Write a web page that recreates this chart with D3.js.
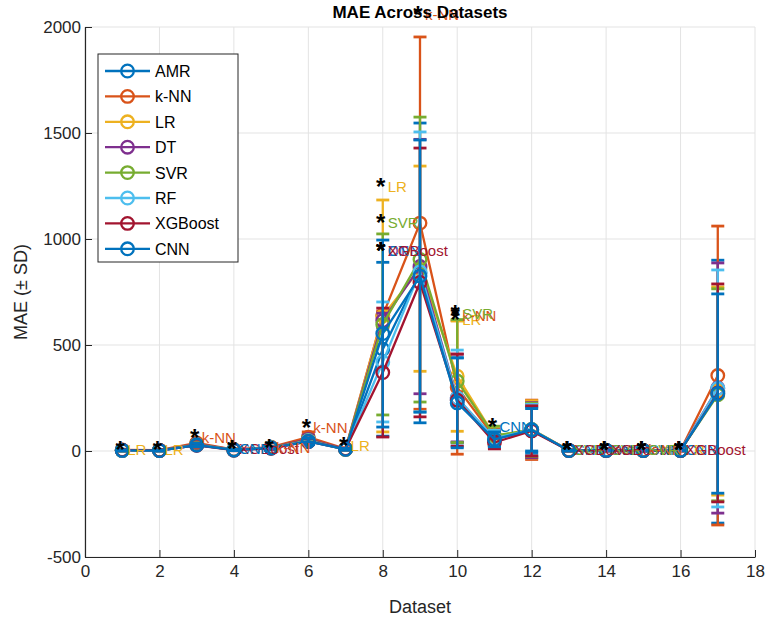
<!DOCTYPE html>
<html lang="en">
<head>
<meta charset="UTF-8">
<title>MAE Across Datasets</title>
<style>
  body { margin: 0; background: #fff; }
  svg text { font-family: "Liberation Sans", Arial, Helvetica, sans-serif; }
</style>
</head>
<body>
<svg width="765" height="617" id="svg"></svg>
<script src="https://d3js.org/d3.v7.min.js"></script>
<script>
// dataset index on x axis
const datasets = [1, 2, 3, 4, 5, 6, 7, 8, 9, 10, 11, 12, 13, 14, 15, 16, 17]
const models = ["AMR", "k-NN", "LR", "DT", "SVR", "RF", "XGBoost", "CNN"]

// mean MAE per model
const maeAMR = [3, 2, 28, 5, 14, 45, 8, 480, 840, 240, 60, 100, 2, 3, 2, 3, 280]
const maeKNN = [5, 4, 38, 7, 18, 65, 10, 640, 1075, 300, 65, 100, 3, 4, 3, 4, 356]
const maeLR = [2, 2, 30, 6, 15, 50, 7, 637, 860, 353, 70, 102, 3, 4, 3, 3, 283]
const maeDT = [4, 3, 32, 6, 16, 55, 9, 615, 870, 250, 55, 98, 3, 3, 3, 4, 297]
const maeSVR = [3, 3, 30, 5, 15, 50, 8, 597, 903, 330, 72, 100, 2, 3, 2, 3, 265]
const maeRF = [3, 2, 28, 5, 14, 48, 8, 420, 845, 250, 60, 100, 2, 3, 2, 3, 295]
const maeXGB = [4, 3, 27, 4, 13, 45, 9, 370, 795, 240, 40, 95, 2, 2, 2, 2, 274]
const maeCNN = [3, 2, 28, 5, 14, 45, 8, 554, 825, 227, 55, 100, 2, 3, 2, 3, 271]

// standard deviations
const sdAMR = [3, 2, 8, 3, 5, 15, 4, 410, 707, 200, 35, 108, 2, 2, 2, 2, 620]
const sdKNN = [4, 3, 12, 4, 6, 25, 5, 20, 878, 315, 40, 140, 3, 3, 3, 3, 705]
const sdLR = [3, 2, 10, 4, 5, 18, 4, 547, 484, 260, 45, 135, 2, 3, 2, 2, 491]
const sdDT = [3, 2, 10, 3, 5, 20, 4, 35, 600, 207, 38, 130, 2, 2, 2, 2, 590]
const sdSVR = [3, 2, 9, 3, 5, 18, 4, 427, 672, 290, 45, 125, 2, 2, 2, 2, 500]
const sdRF = [3, 2, 8, 3, 5, 16, 4, 283, 660, 226, 38, 120, 2, 2, 2, 2, 559]
const sdXGB = [3, 2, 8, 3, 5, 15, 4, 304, 634, 217, 30, 118, 2, 2, 2, 2, 514]
const sdCNN = [3, 2, 8, 3, 5, 15, 4, 441, 642, 212, 35, 100, 2, 2, 2, 2, 470]

// starred (best) models: dataset, model, label height
const starDataset = [1, 2, 3, 4, 4, 5, 6, 7, 8, 8, 8, 8, 8, 9, 10, 10, 10, 11, 13, 13, 13, 14, 14, 14, 15, 15, 15, 16, 16, 16]
const starModel = ["LR", "LR", "k-NN", "XGBoost", "CNN", "k-NN", "k-NN", "LR", "LR", "SVR", "DT", "CNN", "XGBoost", "k-NN",
    "LR", "k-NN", "SVR", "CNN", "CNN", "SVR", "XGBoost", "CNN", "SVR", "XGBoost", "CNN", "k-NN", "SVR", "LR", "CNN", "XGBoost"]
const starValue = [28, 26, 85, 35, 35, 40, 130, 45, 1268, 1100, 968, 968, 968, 2080, 640, 662, 668, 137, 30, 30, 30, 30, 30, 30, 30, 30, 30, 30, 30, 30]

const xTicks = [0, 2, 4, 6, 8, 10, 12, 14, 16, 18]
const yTicks = [-500, 0, 500, 1000, 1500, 2000]

const colors = ["#0072BD", "#D95319", "#EDB120", "#7E2F8E", "#77AC30", "#4DBEEE", "#A2142F", "#0072BD"]
const means = [maeAMR, maeKNN, maeLR, maeDT, maeSVR, maeRF, maeXGB, maeCNN]
const sds = [sdAMR, sdKNN, sdLR, sdDT, sdSVR, sdRF, sdXGB, sdCNN]

const svg = d3.select("svg#svg")
const margin = { left: 85, right: 10, top: 27, bottom: 60 }
const width = +svg.attr("width")
const height = +svg.attr("height")
const axisColor = "#262626"

const xScale = d3.scaleLinear().domain([0, 18]).range([margin.left, width - margin.right])
const yScale = d3.scaleLinear().domain([-500, 2000]).range([height - margin.bottom, margin.top])

// grid
const grid = svg.append("g").attr("stroke", "#e3e3e3").attr("stroke-width", 1)
grid.selectAll("line.gx").data(xTicks).enter().append("line")
    .attr("x1", d => xScale(d)).attr("x2", d => xScale(d))
    .attr("y1", yScale(-500)).attr("y2", yScale(2000))
grid.selectAll("line.gy").data(yTicks).enter().append("line")
    .attr("x1", xScale(0)).attr("x2", xScale(18))
    .attr("y1", d => yScale(d)).attr("y2", d => yScale(d))

// axes (ticks pointing inward like matlab)
const xAxis = d3.axisBottom(xScale).tickValues(xTicks).tickFormat(d => d).tickSizeInner(-7).tickSizeOuter(0).tickPadding(8)
const yAxis = d3.axisLeft(yScale).tickValues(yTicks).tickFormat(d => d).tickSizeInner(-7).tickSizeOuter(0).tickPadding(4)

const gx = svg.append("g").attr("transform", `translate(0, ${yScale(-500)})`).call(xAxis)
const gy = svg.append("g").attr("transform", `translate(${xScale(0)}, 0)`).call(yAxis)
;[gx, gy].forEach(g => {
    g.select(".domain").attr("stroke", axisColor).attr("stroke-width", 1.2)
    g.selectAll(".tick line").attr("stroke", axisColor)
    g.selectAll(".tick text").attr("fill", axisColor).style("font-size", "17px")
})

// series: errorbars, line, markers
const line = d3.line().x(d => xScale(d.x)).y(d => yScale(d.m))
const cap = 6.5

models.forEach((name, i) => {
    const pts = datasets.map((d, j) => ({ x: d, m: means[i][j], s: sds[i][j] }))
    const g = svg.append("g").attr("stroke", colors[i]).attr("stroke-width", 2.3).attr("fill", "none")

    const bars = g.selectAll("g.bar").data(pts).enter().append("g")
    bars.append("line")
        .attr("x1", d => xScale(d.x)).attr("x2", d => xScale(d.x))
        .attr("y1", d => yScale(d.m - d.s)).attr("y2", d => yScale(d.m + d.s))
    bars.append("line")
        .attr("x1", d => xScale(d.x) - cap).attr("x2", d => xScale(d.x) + cap)
        .attr("y1", d => yScale(d.m + d.s)).attr("y2", d => yScale(d.m + d.s)).attr("stroke-width", 2.8)
    bars.append("line")
        .attr("x1", d => xScale(d.x) - cap).attr("x2", d => xScale(d.x) + cap)
        .attr("y1", d => yScale(d.m - d.s)).attr("y2", d => yScale(d.m - d.s)).attr("stroke-width", 2.8)

    g.append("path").datum(pts).attr("d", line).attr("stroke-linejoin", "round")

    g.selectAll("circle").data(pts).enter().append("circle")
        .attr("cx", d => xScale(d.x)).attr("cy", d => yScale(d.m)).attr("r", 6.3)
})

// stars + model names
const stars = svg.append("g")
starDataset.forEach((d, k) => {
    const mi = models.indexOf(starModel[k])
    const px = xScale(d)
    const py = yScale(starValue[k])
    stars.append("text").text("*")
        .attr("x", px - 2).attr("y", py + 13)
        .attr("text-anchor", "middle")
        .attr("fill", "#000").style("font-size", "24px").style("font-weight", "bold")
    stars.append("text").text(starModel[k])
        .attr("x", px + 5).attr("y", py + 10)
        .attr("fill", colors[mi]).style("font-size", "15px")
})

// legend
const lg = svg.append("g").attr("transform", "translate(98, 54)")
lg.append("rect").attr("width", 140).attr("height", 208)
    .attr("fill", "#fff").attr("stroke", axisColor).attr("stroke-width", 1)
models.forEach((name, i) => {
    const yy = 17 + i * 25.4
    lg.append("line").attr("x1", 7).attr("x2", 52).attr("y1", yy).attr("y2", yy)
        .attr("stroke", colors[i]).attr("stroke-width", 2.3)
    lg.append("circle").attr("cx", 29.5).attr("cy", yy).attr("r", 6.3)
        .attr("fill", "none").attr("stroke", colors[i]).attr("stroke-width", 2.3)
    lg.append("text").text(name).attr("x", 57).attr("y", yy + 6)
        .attr("fill", "#000").style("font-size", "16px")
})

// titles
svg.append("text").text("MAE Across Datasets")
    .attr("x", (xScale(0) + xScale(18)) / 2).attr("y", 18)
    .attr("text-anchor", "middle").attr("fill", "#000")
    .style("font-size", "17px").style("font-weight", "bold")
svg.append("text").text("Dataset")
    .attr("x", (xScale(0) + xScale(18)) / 2).attr("y", 613)
    .attr("text-anchor", "middle").attr("fill", axisColor).style("font-size", "18px")
svg.append("text").text("MAE (± SD)")
    .attr("transform", `translate(27, ${(yScale(-500) + yScale(2000)) / 2}) rotate(-90)`)
    .attr("text-anchor", "middle").attr("fill", axisColor).style("font-size", "18px")
</script>
</body>
</html>
